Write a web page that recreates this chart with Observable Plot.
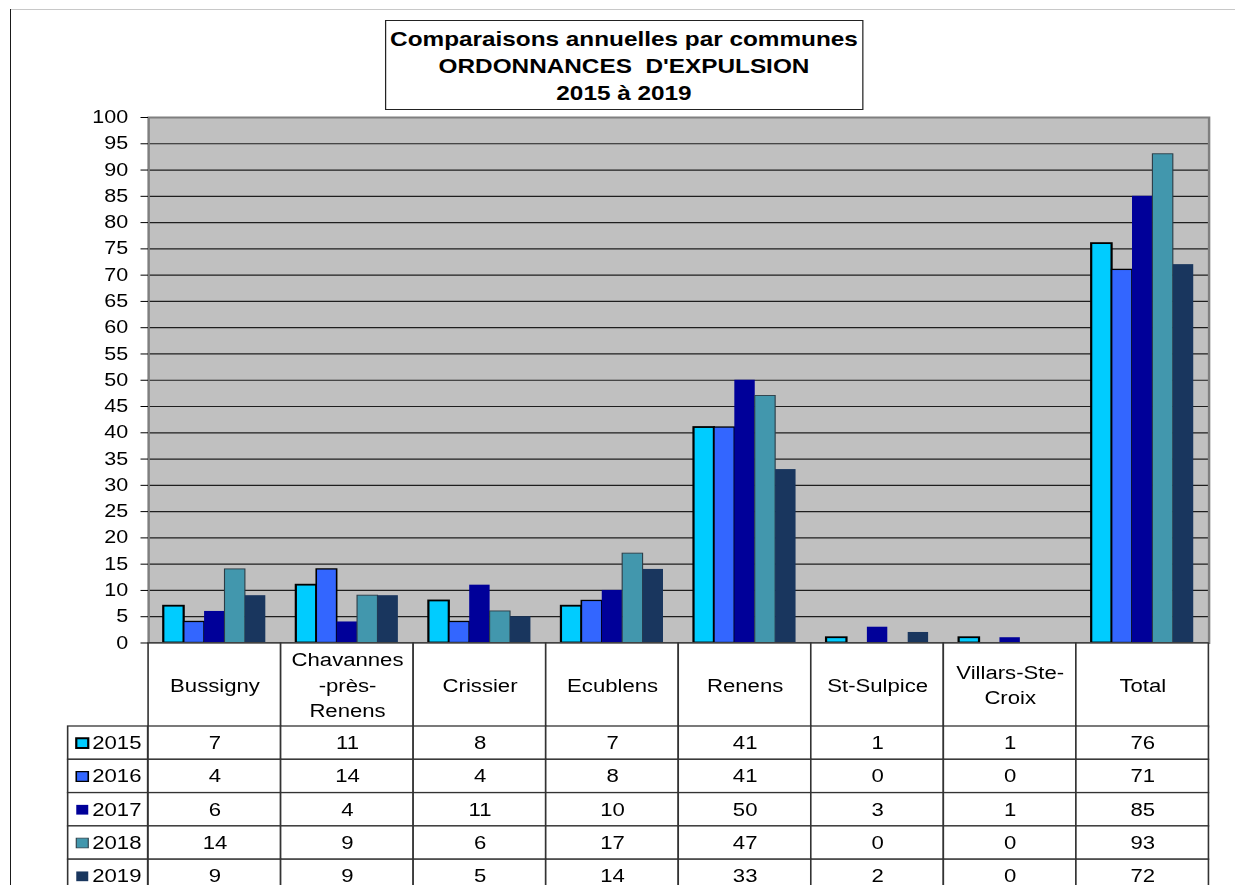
<!DOCTYPE html>
<html>
<head>
<meta charset="utf-8">
<script src="https://cdn.jsdelivr.net/npm/d3@7"></script>
<script src="https://cdn.jsdelivr.net/npm/@observablehq/plot@0.6"></script>
<style>
  html, body { margin: 0; padding: 0; background: #fff; overflow: hidden; }
  body { width: 1235px; height: 885px; position: relative; font-family: "Liberation Sans", Arial, sans-serif; }
  .edge-top { position: absolute; left: 11px; right: 0; top: 9px; border-top: 1.5px solid #c8c8c8; }
  .edge-left { position: absolute; left: 10px; top: 9px; bottom: 0; border-left: 1.5px solid #1a1a1a; }
  #stage { position: absolute; left: 0; top: 0; height: 885px; transform-origin: 0 0; }
  #stage > div { position: absolute; }
  #title {
    box-sizing: border-box; border: 1.5px solid #222; background: #fff;
    text-align: center; font-weight: bold; font-size: 19.8px; line-height: 27px;
    white-space: pre; padding-top: 5px; color: #000;
  }
  svg { display: block; overflow: visible; }
</style>
</head>
<body>
<div class="edge-top"></div>
<div class="edge-left"></div>
<div id="stage">
  <div id="title"></div>
  <div id="chart"></div>
  <div id="header"></div>
  <div id="legend"></div>
  <div id="rows"></div>
</div>
<script>
// ---- data ----
const communes = ["Bussigny", "Chavannes-près-Renens", "Crissier", "Ecublens", "Renens", "St-Sulpice", "Villars-Ste-Croix", "Total"];
const communeLabels = ["Bussigny", "Chavannes\n-près-\nRenens", "Crissier", "Ecublens", "Renens", "St-Sulpice", "Villars-Ste-\nCroix", "Total"];
const years = ["2015", "2016", "2017", "2018", "2019"];
const values2015 = [7, 11, 8, 7, 41, 1, 1, 76];
const values2016 = [4, 14, 4, 8, 41, 0, 0, 71];
const values2017 = [6, 4, 11, 10, 50, 3, 1, 85];
const values2018 = [14, 9, 6, 17, 47, 0, 0, 93];
const values2019 = [9, 9, 5, 14, 33, 2, 0, 72];
const yTicks = d3.range(0, 101, 5);
const titleLines = ["Comparaisons annuelles par communes", "ORDONNANCES  D'EXPULSION", "2015 à 2019"];

const seriesValues = [values2015, values2016, values2017, values2018, values2019];
const table = years.flatMap((year, i) =>
  communes.map((commune, j) => ({commune, year, value: seriesValues[i][j]})));

// ---- styles per series ----
const seriesStyle = {
  "2015": {fill: "#00ccff", stroke: "#000", strokeWidth: 1.8},
  "2016": {fill: "#3366ff", stroke: "#000", strokeWidth: 1.3},
  "2017": {fill: "#000099", stroke: "none", strokeWidth: 0},
  "2018": {fill: "#4297ad", stroke: "#2c3c46", strokeWidth: 0.9},
  "2019": {fill: "#19365e", stroke: "none", strokeWidth: 0}
};

// ---- layout (the whole stage is stretched horizontally) ----
const SX = 1.23;
const W = 1235 / SX;
const X = v => v / SX;
const plotLeft = 148, plotRight = 1208.5;
const mL = X(plotLeft), mR = X(1235 - plotRight);
const font = "'Liberation Sans', Arial, sans-serif";
const lineColor = "#333";

const stage = document.getElementById("stage");
stage.style.width = W + "px";
stage.style.transform = `scaleX(${SX})`;

function place(id, left, top, width, height) {
  const el = document.getElementById(id);
  el.style.left = left + "px";
  el.style.top = top + "px";
  if (width != null) el.style.width = width + "px";
  if (height != null) el.style.height = height + "px";
  return el;
}

// title box
const titleEl = place("title", X(385), 20, X(863 - 385), 90);
titleEl.textContent = titleLines.join("\n");

// ---- column chart ----
const chartH = 660;
const band = (W - mL - mR) / communes.length;
const barW = band * (20.4 / 132.5);
const pad = (band - years.length * barW) / 2;

const barMarks = years.map((year, i) => {
  const s = seriesStyle[year];
  return Plot.barY(table.filter(d => d.year === year && d.value > 0), {
    x: "commune",
    y: "value",
    fill: s.fill,
    stroke: s.stroke,
    strokeWidth: s.strokeWidth,
    insetLeft: pad + i * barW,
    insetRight: band - pad - (i + 1) * barW
  });
});

const chart = Plot.plot({
  width: W,
  height: chartH,
  marginLeft: mL,
  marginRight: mR,
  marginTop: 117,
  marginBottom: chartH - 642.5,
  style: {fontFamily: font, background: "transparent", color: "#000"},
  x: {domain: communes, padding: 0, round: false, axis: null},
  y: {domain: [0, 100], label: null},
  marks: [
    Plot.frame({fill: "#c0c0c0"}),
    Plot.ruleY(yTicks.filter(t => t > 0 && t < 100), {stroke: "#1e1e1e", strokeWidth: 1.2}),
    ...barMarks,
    Plot.frame({stroke: "#7f7f7f", strokeWidth: 2}),
    Plot.ruleY([0], {stroke: "#555", strokeWidth: 1.5}),
    Plot.axisY({ticks: yTicks, tickSize: X(7.5), tickPadding: X(13), fontSize: 17.5, label: null, stroke: "#000"})
  ]
});
place("chart", 0, 0).appendChild(chart);

// ---- data table: header row of commune names ----
const headerH = 86;
const header = Plot.plot({
  width: W,
  height: headerH,
  marginLeft: mL,
  marginRight: mR,
  marginTop: 1,
  marginBottom: 1,
  style: {fontFamily: font, background: "transparent", color: "#000"},
  x: {domain: communes, padding: 0, round: false, axis: null},
  marks: [
    Plot.cell(communes, {x: d => d, fill: "#fff", stroke: lineColor, strokeWidth: 1.3}),
    Plot.text(communes, {x: d => d, text: (d, i) => communeLabels[i], fontSize: 18, lineHeight: 1.42, dy: -2})
  ]
});
place("header", 0, 641.5).appendChild(header);

// ---- data table: value rows ----
const rowH = 33.3;
const rowsH = years.length * rowH + 2;
const rowsTop = 725;
const rows = Plot.plot({
  width: W,
  height: rowsH,
  marginLeft: mL,
  marginRight: mR,
  marginTop: 1,
  marginBottom: 1,
  style: {fontFamily: font, background: "transparent", color: "#000"},
  x: {domain: communes, padding: 0, round: false, axis: null},
  y: {domain: years, padding: 0, round: false, axis: null},
  marks: [
    Plot.cell(table, {x: "commune", y: "year", fill: "#fff", stroke: lineColor, strokeWidth: 1.3}),
    Plot.text(table, {x: "commune", y: "year", text: d => String(d.value), fontSize: 18})
  ]
});
place("rows", 0, rowsTop).appendChild(rows);

// ---- data table: legend column (series keys) ----
const legendW = X(plotLeft - 68) + 2;
const legend = Plot.plot({
  width: legendW,
  height: rowsH,
  marginLeft: 1,
  marginRight: 1,
  marginTop: 1,
  marginBottom: 1,
  style: {fontFamily: font, background: "transparent", color: "#000"},
  y: {domain: years, padding: 0, round: false, axis: null},
  marks: [
    Plot.cell(years, {y: d => d, fill: "#fff", stroke: lineColor, strokeWidth: 1.3}),
    ...years.map(year => {
      const s = seriesStyle[year];
      return Plot.dot([year], {
        y: d => d, frameAnchor: "left", dx: X(14), symbol: "square", r: 5.5,
        fill: s.fill, stroke: s.stroke, strokeWidth: s.strokeWidth
      });
    }),
    Plot.text(years, {y: d => d, text: d => d, frameAnchor: "left", textAnchor: "start", dx: X(24), fontSize: 18})
  ]
});
place("legend", X(68) - 1, rowsTop).appendChild(legend);
</script>
</body>
</html>
